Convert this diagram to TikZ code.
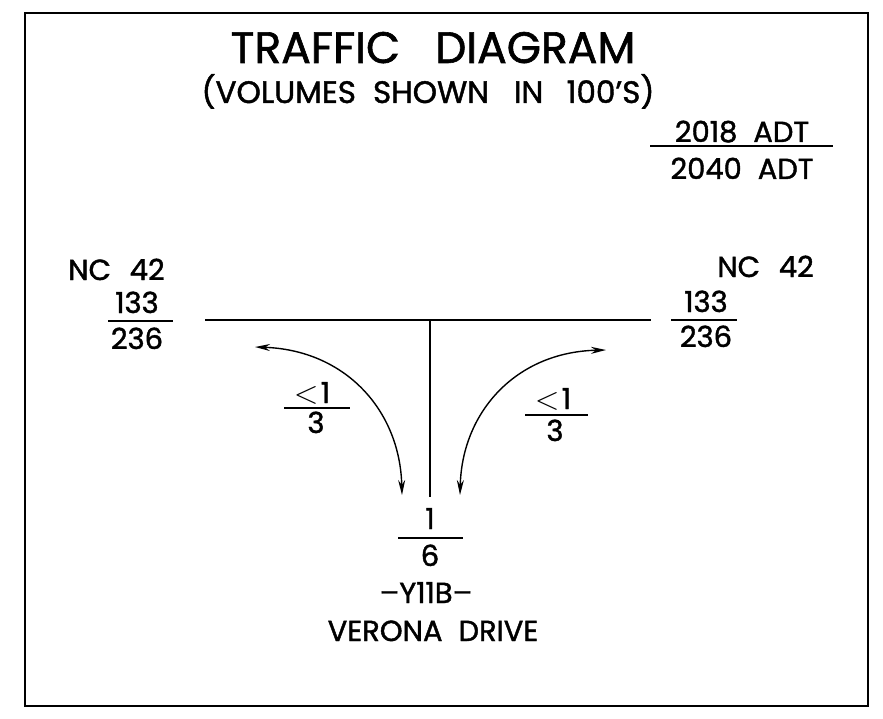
\documentclass[tikz,border=0pt]{standalone}
\usepackage{fontspec}
\usepackage{graphicx}
\setmainfont{Poppins}[FakeBold=1.4]
\usetikzlibrary{arrows.meta}

\newcommand{\gap}[1][0.65em]{\hspace{#1}}
\newcommand{\lessthan}{\scalebox{1.3}[1.3]{$<$}\hspace{0.08em}}
\tikzset{
  lbl/.style={inner sep=0pt,anchor=base,font=\fontsize{29}{31}\selectfont},
  bar/.style={line width=1.4pt},
  road/.style={line width=1.4pt},
  turn/.style={line width=1.4pt,{Stealth[length=15pt,width=7pt]}-{Stealth[length=15pt,width=7pt]}}
}

\begin{document}
\begin{tikzpicture}[x=1pt,y=-1pt]
  \useasboundingbox (0,0) rectangle (883,719);
  \draw[line width=2.5pt] (25,13) rectangle (868,706);
  % heading
  \node[lbl,font=\fontsize{44}{46}\selectfont] (title) at (433,63) {TRAFFIC\gap[0.8em]DIAGRAM};
  \node[lbl,font=\fontsize{31}{33}\selectfont] (volumes) at (428,103)
    {(VOLUMES\gap[0.55em]SHOWN\gap[0.8em]IN\gap[0.75em]100'S)};
  % legend
  \node[lbl] (adtnow) at (742,142) {2018\gap[0.55em]ADT};
  \coordinate (legA) at (650,146); \coordinate (legB) at (833,146);
  \draw[bar] (legA) -- (legB);
  \node[lbl] (adtfut) at (742,179) {2040\gap[0.55em]ADT};
  % roads
  \coordinate (west) at (205,320); \coordinate (east) at (651,320);
  \coordinate (tee) at (430,320); \coordinate (south) at (430,497);
  \draw[road] (west) -- (east);
  \draw[road] (tee) -- (south);
  % NC 42 west
  \node[lbl,anchor=base west] (ncwest) at (68,280) {NC\gap42};
  \node[lbl] (wnow) at (137,313) {133};
  \coordinate (wA) at (108,321); \coordinate (wB) at (173,321);
  \draw[bar] (wA) -- (wB);
  \node[lbl] (wfut) at (137,349) {236};
  % NC 42 east
  \node[lbl,anchor=base east] (nceast) at (814,277) {NC\gap42};
  \node[lbl] (enow) at (706,312) {133};
  \coordinate (eA) at (671,320); \coordinate (eB) at (737,320);
  \draw[bar] (eA) -- (eB);
  \node[lbl] (efut) at (706,347) {236};
  % turning movements
  \coordinate (lt1) at (255,347); \coordinate (lt2) at (402,495);
  \coordinate (rt1) at (606,350); \coordinate (rt2) at (460,495);
  \draw[turn] (lt1) .. controls (345,350) and (400,410) .. (lt2);
  \draw[turn] (rt1) .. controls (516,352) and (462,412) .. (rt2);
  \node[lbl] (lnow) at (312,403) {\lessthan1};
  \coordinate (lA) at (284,408); \coordinate (lB) at (350,408);
  \draw[bar] (lA) -- (lB);
  \node[lbl] (lfut) at (316,433) {3};
  \node[lbl] (rnow) at (553,409) {\lessthan1};
  \coordinate (rA) at (525,415); \coordinate (rB) at (588,415);
  \draw[bar] (rA) -- (rB);
  \node[lbl] (rfut) at (555,441) {3};
  % Verona Drive
  \node[lbl] (snow) at (430,529) {1};
  \coordinate (sA) at (398,538); \coordinate (sB) at (463,538);
  \draw[bar] (sA) -- (sB);
  \node[lbl] (sfut) at (430,566) {6};
  \node[lbl] (route) at (426,603) {--Y11B--};
  \node[lbl] (street) at (433,641) {VERONA\gap[0.55em]DRIVE};
\end{tikzpicture}
\end{document}
